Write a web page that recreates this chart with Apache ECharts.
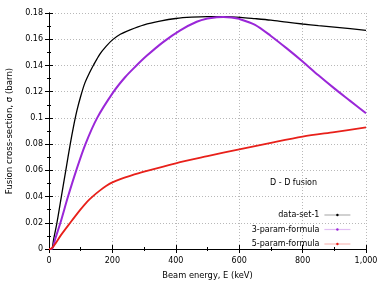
<!DOCTYPE html>
<html><head><meta charset="utf-8">
<script src="https://cdn.jsdelivr.net/npm/echarts@6/dist/echarts.min.js"></script>
<style>html,body{margin:0;padding:0;background:#fff}#c{width:382px;height:291px}</style>
</head><body><div id="c"></div>
<script>
const seriesNames = ['data-set-1', '3-param-formula', '5-param-formula'];
const xTicks = [0, 200, 400, 600, 800, 1000];
const yTicks = [0, 0.02, 0.04, 0.06, 0.08, 0.1, 0.12, 0.14, 0.16, 0.18];
// data-set-1 (black)
const blackE = [0, 8, 15, 25, 39, 53, 67, 77, 88, 100, 113, 127, 141, 160, 180, 200, 225, 256, 300, 350, 400, 450, 500, 550, 604, 650, 700, 750, 800, 850, 900, 950, 1000];
const blackS = [0, 0, 0.008, 0.02, 0.04, 0.06, 0.08, 0.093, 0.1055, 0.1165, 0.1265, 0.134, 0.1405, 0.1485, 0.1545, 0.1595, 0.1638, 0.1672, 0.171, 0.1738, 0.1758, 0.1768, 0.1772, 0.1772, 0.1767, 0.1757, 0.1745, 0.173, 0.1716, 0.1703, 0.1692, 0.1681, 0.1668];
// 3-param-formula (purple)
const purpleE = [0, 9, 20, 36, 60, 86, 115, 152, 204, 240, 272, 309, 361, 414, 466, 500, 529, 550, 575, 600, 650, 700, 750, 800, 850, 900, 950, 1000];
const purpleS = [0, 0, 0.008, 0.02, 0.04, 0.06, 0.08, 0.10, 0.12, 0.131, 0.139, 0.1475, 0.158, 0.1668, 0.1733, 0.1758, 0.1768, 0.1770, 0.1766, 0.1755, 0.171, 0.1625, 0.153, 0.143, 0.1325, 0.1225, 0.113, 0.1035];
// 5-param-formula (red)
const redE = [0, 4, 12, 20, 36, 67, 99, 120, 140, 160, 180, 200, 225, 256, 300, 400, 500, 600, 700, 800, 900, 1000];
const redS = [0, 0, 0.0015, 0.004, 0.01, 0.02, 0.03, 0.036, 0.0405, 0.0445, 0.048, 0.0508, 0.0533, 0.0558, 0.059, 0.0654, 0.0708, 0.076, 0.081, 0.0857, 0.0892, 0.0927];

const pairs = (xs, ys) => xs.map((x, i) => [x, ys[i]]);
const chart = echarts.init(document.getElementById('c'), null, {renderer: 'canvas'});
const font = 'DejaVu Sans';
const gridLine = {show: true, lineStyle: {color: '#b8b8b8', type: [1, 2], width: 1}};
const axisLine = {show: true, lineStyle: {color: '#000', width: 1}};
const tick = {show: true, inside: true, length: 4, lineStyle: {color: '#000'}};
const minorTick = {show: true, splitNumber: 2, length: 2, lineStyle: {color: '#000'}};
const baseX = {type: 'value', min: 0, max: 1000, interval: 200, axisLine, axisTick: tick, minorTick};
const baseY = {type: 'value', min: 0, max: 0.18, interval: 0.02, axisLine, axisTick: tick, minorTick};
const colors = ['#000000', '#9a27d8', '#e8201a'];
chart.setOption({
  animation: false,
  textStyle: {fontFamily: font},
  grid: {left: 49, right: 16, top: 13, bottom: 42, containLabel: false, outerBoundsMode: 'none'},
  legend: {
    orient: 'vertical', right: 26, top: 206, align: 'right',
    itemWidth: 26, itemHeight: 3, itemGap: 6.5,
    textStyle: {fontFamily: font, fontSize: 8, color: '#000'},
    data: seriesNames.map((n, i) => ({name: n, lineStyle: {color: colors[i], opacity: 0.3, width: 1.2}, itemStyle: {color: colors[i]}}))
  },
  graphic: [{type: 'text', left: 270, top: 179, style: {text: 'D - D fusion', font: '8px "DejaVu Sans"', fill: '#000'}}],
  xAxis: [
    Object.assign({}, baseX, {
      position: 'bottom', name: 'Beam energy, E (keV)', nameLocation: 'middle', nameGap: 23,
      nameTextStyle: {fontFamily: font, fontSize: 8.3, color: '#000'},
      axisLabel: {margin: 8, fontSize: 8, color: '#000', fontFamily: font},
      splitLine: gridLine
    }),
    Object.assign({}, baseX, {position: 'top', axisLabel: {show: false}, splitLine: {show: false}})
  ],
  yAxis: [
    Object.assign({}, baseY, {
      position: 'left', name: 'Fusion cross-section, σ (barn)', nameLocation: 'middle', nameGap: 35,
      nameTextStyle: {fontFamily: font, fontSize: 8.6, color: '#000'},
      axisLabel: {margin: 6, fontSize: 8, color: '#000', fontFamily: font, formatter: v => String(+v.toFixed(2))},
      splitLine: gridLine
    }),
    Object.assign({}, baseY, {position: 'right', axisLabel: {show: false}, splitLine: {show: false}})
  ],
  series: [
    {name: seriesNames[0], type: 'line', data: pairs(blackE, blackS), smooth: 0.3, showSymbol: false, symbol: 'circle', symbolSize: 2,
      lineStyle: {color: colors[0], width: 1.3}, itemStyle: {color: colors[0]}, z: 3},
    {name: seriesNames[1], type: 'line', data: pairs(purpleE, purpleS), smooth: 0.3, showSymbol: false, symbol: 'circle', symbolSize: 2,
      lineStyle: {color: colors[1], width: 2}, itemStyle: {color: colors[1]}, z: 4},
    {name: seriesNames[2], type: 'line', data: pairs(redE, redS), smooth: 0.3, showSymbol: false, symbol: 'circle', symbolSize: 2,
      lineStyle: {color: colors[2], width: 1.8}, itemStyle: {color: colors[2]}, z: 5}
  ]
});
</script></body></html>
